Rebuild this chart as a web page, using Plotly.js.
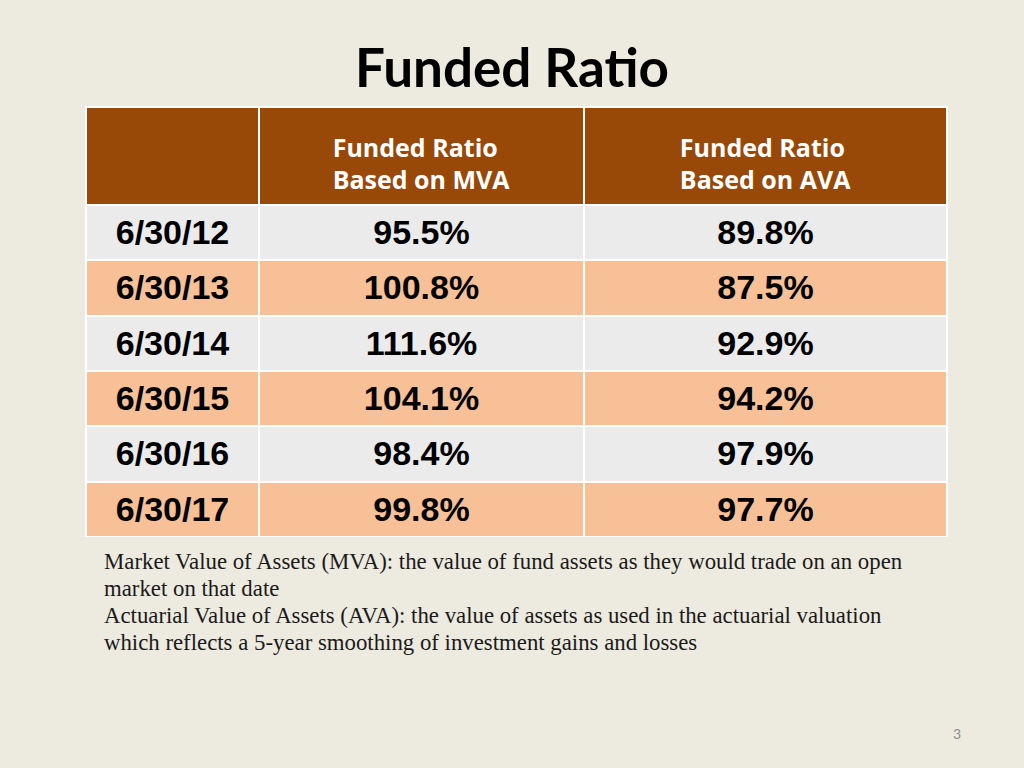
<!DOCTYPE html>
<html>
<head>
<meta charset="utf-8">
<script src="https://cdn.plot.ly/plotly-3.0.1.min.js"></script>
<style>
html,body{margin:0;padding:0;background:#EDEAE0;}
#chart{width:1024px;height:768px;}
svg text{font-variant-ligatures:none;}
</style>
</head>
<body>
<div id="chart"></div>
<script>
const dates = ["6/30/12","6/30/13","6/30/14","6/30/15","6/30/16","6/30/17"];
const mvaRatio = ["95.5%","100.8%","111.6%","104.1%","98.4%","99.8%"];
const avaRatio = ["89.8%","87.5%","92.9%","94.2%","97.9%","97.7%"];
const headers = ["", "Funded Ratio<br>Based on MVA", "Funded Ratio<br>Based on AVA"];
const notes = [
  "Market Value of Assets (MVA): the value of fund assets as they would trade on an open",
  "market on that date",
  "Actuarial Value of Assets (AVA): the value of assets as used in the actuarial valuation",
  "which reflects a 5-year smoothing of investment gains and losses"
];

const rowColors = dates.map((d,i)=> i%2===0 ? "#EBEBEB" : "#F8C096");
const padHead = s => "<span style='font-size:8px'> </span><br>" + s;
const shiftCell = s => "<span style='baseline-shift:-16px'>" + s + "</span><br>";

const W=1024, H=768;
const trace = {
  type: "table",
  domain: {x:[86/W, 947/W], y:[1-537/H, 1-107/H]},
  columnwidth: [173, 325, 363],
  header: {
    values: headers.map(padHead),
    align: "center",
    height: 98,
    fill: {color: "#984807"},
    line: {color: "#FFFFFF", width: 2},
    font: {family: "'Open Sans', sans-serif", size: 25, color: "#FFFFFF", weight: "bold"}
  },
  cells: {
    values: [dates.map(shiftCell), mvaRatio.map(shiftCell), avaRatio.map(shiftCell)],
    align: "center",
    height: 55.3,
    fill: {color: [rowColors, rowColors, rowColors]},
    line: {color: "#FFFFFF", width: 2},
    font: {family: "'Liberation Sans', Arial, sans-serif", size: 34, color: "#000000", weight: "bold"}
  }
};

const noteAnns = notes.map((t,i)=>({
  text: t,
  xref: "paper", yref: "paper",
  x: 102/W, xanchor: "left",
  y: 1-(561+i*27.3)/H, yanchor: "middle",
  align: "left",
  showarrow: false,
  font: {family: "'Liberation Serif', 'Times New Roman', serif", size: 22.8, color: "#1a1a1a"}
}));

const layout = {
  width: W, height: H,
  margin: {l:0, r:0, t:0, b:0},
  paper_bgcolor: "#EDEAE0",
  plot_bgcolor: "#EDEAE0",
  title: {
    text: "<b>Funded Ratio</b>",
    x: 0.5, xanchor: "center",
    y: 1-68/H, yanchor: "middle",
    font: {family: "Lato, 'Open Sans', sans-serif", size: 53, color: "#000000"}
  },
  annotations: noteAnns.concat([
    {
      text: "3",
      xref: "paper", yref: "paper",
      x: 957/W, xanchor: "center",
      y: 1-733/H, yanchor: "middle",
      showarrow: false,
      font: {family: "Lato, sans-serif", size: 14, color: "#8C8C8C"}
    }
  ])
};

Plotly.newPlot("chart", [trace], layout, {displayModeBar:false, staticPlot:true});
</script>
</body>
</html>
